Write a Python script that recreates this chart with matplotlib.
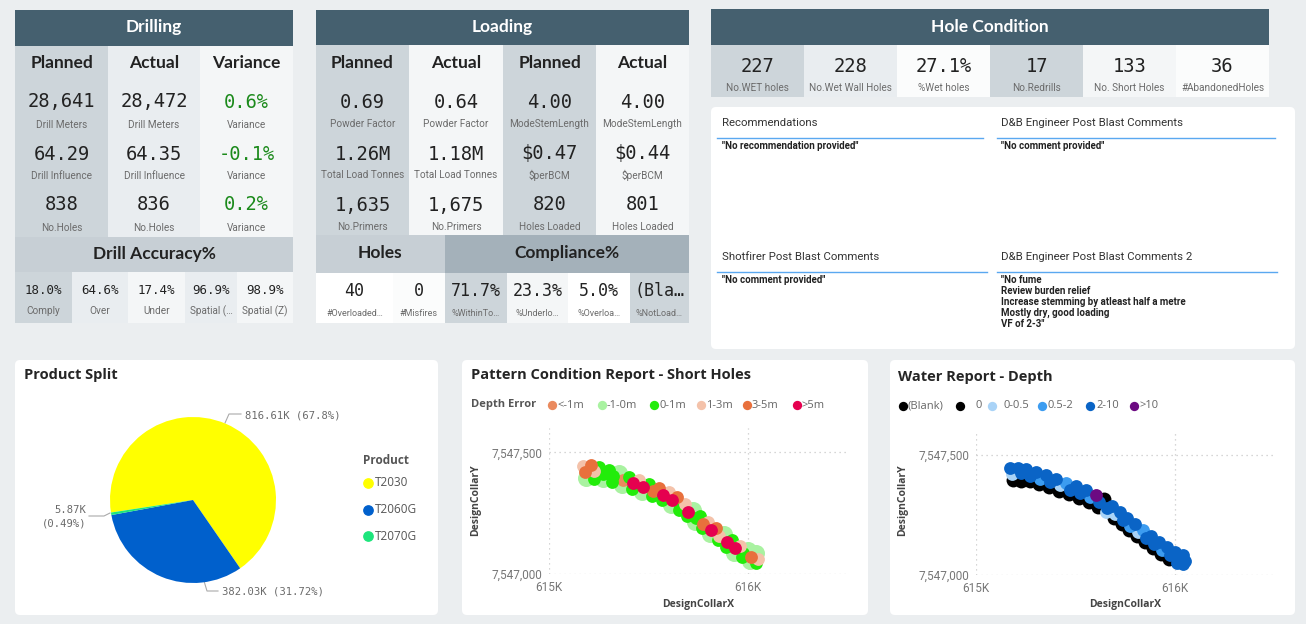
import matplotlib
matplotlib.use('Agg')
import matplotlib.pyplot as plt
from matplotlib.patches import Rectangle, FancyBboxPatch
from matplotlib.lines import Line2D

# ---------------- data ----------------
drill_headers = ['Planned', 'Actual', 'Variance']
drill_planned = ['28,641', '64.29', '838']
drill_actual = ['28,472', '64.35', '836']
drill_variance = ['0.6%', '-0.1%', '0.2%']
drill_labels = ['Drill Meters', 'Drill Influence', 'No.Holes']
drill_var_label = 'Variance'
accuracy_values = ['18.0%', '64.6%', '17.4%', '96.9%', '98.9%']
accuracy_labels = ['Comply', 'Over', 'Under', 'Spatial (…', 'Spatial (Z)']

loading_headers = ['Planned', 'Actual', 'Planned', 'Actual']
loading_values = [['0.69', '1.26M', '1,635'],
                  ['0.64', '1.18M', '1,675'],
                  ['4.00', '$0.47', '820'],
                  ['4.00', '$0.44', '801']]
loading_labels = [['Powder Factor', 'Total Load Tonnes', 'No.Primers'],
                  ['Powder Factor', 'Total Load Tonnes', 'No.Primers'],
                  ['ModeStemLength', '$perBCM', 'Holes Loaded'],
                  ['ModeStemLength', '$perBCM', 'Holes Loaded']]
holes_values = ['40', '0']
holes_labels = ['#Overloaded…', '#Misfires']
compliance_values = ['71.7%', '23.3%', '5.0%', '(Bla…']
compliance_labels = ['%WithinTo…', '%Underlo…', '%Overloa…', '%NotLoad…']

hole_cond_values = ['227', '228', '27.1%', '17', '133', '36']
hole_cond_labels = ['No.WET holes', 'No.Wet Wall Holes', '%Wet holes', 'No.Redrills',
                    'No. Short Holes', '#AbandonedHoles']

comment_titles = ['Recommendations', 'D&B Engineer Post Blast Comments',
                  'Shotfirer Post Blast Comments', 'D&B Engineer Post Blast Comments 2']
comment_texts = ['"No recommendation provided"', '"No comment provided"',
                 '"No comment provided"',
                 '"No fume\nReview burden relief\nIncrease stemming by atleast half a metre\nMostly dry, good loading\nVF of 2-3"']

products = ['T2030', 'T2060G', 'T2070G']
product_values = [816.61, 382.03, 5.87]
product_value_labels = ['816.61K', '382.03K', '5.87K']
product_pct_labels = ['67.8%', '31.72%', '0.49%']
product_colors = ['#ffff00', '#0060cc', '#1de57c']

hole_x = [615170, 615210, 615250, 615300, 615350, 615400, 615450, 615500, 615550, 615600, 615640,
          615680, 615720, 615760, 615800, 615840, 615880, 615920, 615960, 616000, 616040,
          615180, 615225, 615270, 615320, 615370, 615420, 615470, 615520, 615570, 615615, 615655,
          615695, 615735, 615775, 615815, 615855, 615895, 615935, 615975, 616015, 616050,
          615185, 615225, 615270, 615315, 615365, 615415, 615465, 615515, 615565, 615610, 615650,
          615690, 615730, 615770, 615810, 615850, 615890, 615930, 615970, 616010, 616040]
hole_y = [7547445, 7547447, 7547440, 7547428, 7547415, 7547400, 7547385, 7547370, 7547353, 7547335, 7547315,
          7547288, 7547263, 7547238, 7547213, 7547188, 7547163, 7547138, 7547115, 7547097, 7547085,
          7547420, 7547423, 7547413, 7547401, 7547388, 7547373, 7547356, 7547341, 7547323, 7547303, 7547281,
          7547256, 7547231, 7547206, 7547181, 7547156, 7547130, 7547106, 7547085, 7547070, 7547060,
          7547395, 7547390, 7547392, 7547380, 7547366, 7547351, 7547336, 7547320, 7547303, 7547285, 7547263,
          7547238, 7547213, 7547188, 7547163, 7547138, 7547113, 7547088, 7547068, 7547052, 7547047]

depth_error = ['1-3m', '3-5m', '0-1m', '0-1m', '-1-0m', '0-1m', '1-3m', '0-1m', '3-5m', '1-3m', '3-5m',
               '1-3m', '-1-0m', '0-1m', '1-3m', '3-5m', '-1-0m', '0-1m', '1-3m', '-1-0m', '-1-0m',
               '3-5m', '1-3m', '0-1m', '0-1m', '<-1m', '>5m', '>5m', '3-5m', '>5m', '>5m', '0-1m',
               '>5m', '0-1m', '3-5m', '>5m', '1-3m', '>5m', '>5m', '0-1m', '3-5m', '1-3m',
               '-1-0m', '0-1m', '-1-0m', '0-1m', '-1-0m', '0-1m', '-1-0m', '0-1m', '0-1m', '-1-0m', '0-1m',
               '0-1m', '-1-0m', '0-1m', '-1-0m', '0-1m', '0-1m', '-1-0m', '0-1m', '-1-0m', '0-1m']
depth_classes = ['<-1m', '-1-0m', '0-1m', '1-3m', '3-5m', '>5m']
depth_colors = ['#ea8a5e', '#a9f2a1', '#22ec0a', '#f4c2aa', '#e8703c', '#e5004f']

water_depth = ['2-10', '2-10', '2-10', '2-10', '2-10', '2-10', '0.5-2', '2-10', '2-10', '>10', '0',
               '2-10', '2-10', '2-10', '2-10', '0.5-2', '2-10', '2-10', '2-10', '2-10', '2-10',
               '0-0.5', '2-10', '2-10', '0.5-2', '2-10', '0-0.5', '2-10', '2-10', '0.5-2', '2-10', '2-10',
               '0-0.5', '2-10', '0.5-2', '0-0.5', '2-10', '2-10', '0.5-2', '2-10', '2-10', '2-10',
               '0', '0', '0', '(Blank)', '0', '0', '0', '0', '0', '0', '0-0.5',
               '0', '0', '0', '0', '0', '0', '0', '0', '2-10', '2-10']
water_classes = ['(Blank)', '0', '0-0.5', '0.5-2', '2-10', '>10']
water_colors = ['#000000', '#000000', '#a9d3f7', '#3c9cf0', '#0a64c6', '#6c0a82']

x_ticks = [615000, 616000]
x_tick_labels = ['615K', '616K']
y_ticks = [7547000, 7547500]
y_tick_labels = ['7,547,000', '7,547,500']

# ---------------- styles ----------------
W, H = 1306, 624
BG = '#ebeef0'
HEAD = '#45606f'
C_DARK = '#cdd5da'
C_MID = '#e9edf0'
C_LIGHT = '#f4f6f7'
C_WHITE = '#fbfcfc'
SUB = '#c7cfd5'
SUB2 = '#a4b1ba'
MONO = ['DejaVu Sans Mono']
HFONT = ['Lato', 'DejaVu Sans']
LFONT = ['Liberation Sans Narrow', 'Roboto', 'DejaVu Sans']
TFONT = ['Open Sans', 'DejaVu Sans']

fig = plt.figure(figsize=(W / 100, H / 100), dpi=100)
fig.patch.set_facecolor(BG)
bg = fig.add_axes([0, 0, 1, 1])
bg.set_xlim(0, W)
bg.set_ylim(H, 0)
bg.axis('off')


def px_axes(x0, y0, x1, y1):
    return fig.add_axes([x0 / W, 1 - y1 / H, (x1 - x0) / W, (y1 - y0) / H])


def rect(x0, y0, x1, y1, color):
    bg.add_patch(Rectangle((x0, y0), x1 - x0, y1 - y0, fc=color, ec='none', zorder=1))


def panel(x0, y0, x1, y1):
    bg.add_patch(FancyBboxPatch((x0, y0), x1 - x0, y1 - y0,
                                boxstyle='round,pad=0,rounding_size=5',
                                fc='white', ec='none', zorder=1))


def txt(x, y, s, size=8, color='#222222', weight='normal', family=None, ha='center', va='center', **kw):
    bg.text(x, y, s, fontsize=size, color=color, fontweight=weight,
            family=family if family else LFONT, ha=ha, va=va, parse_math=False, zorder=3, **kw)


VAL_SIZE = 13.5
LAB_SIZE = 7.2
LAB_COL = '#6b6b6b'
HDR_SIZE = 12.5
TITLE_SIZE = 12.5

# ---------------- Drilling ----------------
rect(15, 10, 293, 46, HEAD)
txt(154, 27, 'Drilling', size=TITLE_SIZE, color='white', weight='bold', family=HFONT)
dcols = [15, 108, 200, 293]
dcolors = [C_DARK, C_MID, C_LIGHT]
val_y = [102, 154, 205]
lab_y = [125, 176, 228]
for i in range(3):
    rect(dcols[i], 46, dcols[i + 1], 237, dcolors[i])
    cx = (dcols[i] + dcols[i + 1]) / 2
    txt(cx, 63, drill_headers[i], size=HDR_SIZE, weight='bold', family=HFONT)
for r in range(3):
    txt((dcols[0] + dcols[1]) / 2, val_y[r], drill_planned[r], size=VAL_SIZE, family=MONO)
    txt((dcols[0] + dcols[1]) / 2, lab_y[r], drill_labels[r], size=LAB_SIZE, color=LAB_COL)
    txt((dcols[1] + dcols[2]) / 2, val_y[r], drill_actual[r], size=VAL_SIZE, family=MONO)
    txt((dcols[1] + dcols[2]) / 2, lab_y[r], drill_labels[r], size=LAB_SIZE, color=LAB_COL)
    txt((dcols[2] + dcols[3]) / 2, val_y[r], drill_variance[r], size=VAL_SIZE, family=MONO, color='#1b8a1b')
    txt((dcols[2] + dcols[3]) / 2, lab_y[r], drill_var_label, size=LAB_SIZE, color=LAB_COL)
rect(15, 237, 293, 272, SUB)
txt(154, 254, 'Drill Accuracy%', size=HDR_SIZE, weight='bold', family=HFONT)
acols = [15, 72, 128, 185, 237, 293]
acolors = [C_DARK, C_MID, C_LIGHT, C_MID, C_LIGHT]
for i in range(5):
    rect(acols[i], 272, acols[i + 1], 323, acolors[i])
    cx = (acols[i] + acols[i + 1]) / 2
    txt(cx, 290, accuracy_values[i], size=9, family=MONO)
    txt(cx, 311, accuracy_labels[i], size=LAB_SIZE, color=LAB_COL)

# ---------------- Loading ----------------
rect(316, 10, 689, 45, HEAD)
txt(502, 27, 'Loading', size=TITLE_SIZE, color='white', weight='bold', family=HFONT)
lcols = [316, 409, 503, 596, 689]
lcolors = [C_DARK, C_LIGHT, C_DARK, C_LIGHT]
for i in range(4):
    rect(lcols[i], 45, lcols[i + 1], 235, lcolors[i])
    cx = (lcols[i] + lcols[i + 1]) / 2
    txt(cx, 63, loading_headers[i], size=HDR_SIZE, weight='bold', family=HFONT)
    for r in range(3):
        txt(cx, val_y[r], loading_values[i][r], size=VAL_SIZE, family=MONO)
        txt(cx, lab_y[r] - 1, loading_labels[i][r], size=LAB_SIZE, color=LAB_COL)
rect(316, 235, 445, 273, SUB)
rect(445, 235, 689, 273, SUB2)
txt(380, 253, 'Holes', size=HDR_SIZE, weight='bold', family=HFONT)
txt(567, 253, 'Compliance%', size=HDR_SIZE, weight='bold', family=HFONT)
hcols = [316, 393, 445]
hcolors = ['white', C_WHITE]
for i in range(2):
    rect(hcols[i], 273, hcols[i + 1], 323, hcolors[i])
    cx = (hcols[i] + hcols[i + 1]) / 2
    txt(cx, 291, holes_values[i], size=12, family=MONO)
    txt(cx, 313, holes_labels[i], size=6.5, color=LAB_COL)
ccols = [445, 507, 568, 630, 689]
ccolors = [C_DARK, C_LIGHT, 'white', C_DARK]
for i in range(4):
    rect(ccols[i], 273, ccols[i + 1], 323, ccolors[i])
    cx = (ccols[i] + ccols[i + 1]) / 2
    txt(cx, 291, compliance_values[i], size=12, family=MONO)
    txt(cx, 313, compliance_labels[i], size=6.5, color=LAB_COL)

# ---------------- Hole Condition ----------------
rect(711, 9, 1269, 45, HEAD)
txt(990, 27, 'Hole Condition', size=TITLE_SIZE, color='white', weight='bold', family=HFONT)
hc_cols = [711, 804, 897, 990, 1083, 1176, 1269]
hc_colors = [C_DARK, C_MID, C_WHITE, C_DARK, C_LIGHT, C_WHITE]
for i in range(6):
    rect(hc_cols[i], 45, hc_cols[i + 1], 97, hc_colors[i])
    cx = (hc_cols[i] + hc_cols[i + 1]) / 2
    txt(cx, 66, hole_cond_values[i], size=VAL_SIZE, family=MONO)
    txt(cx, 88, hole_cond_labels[i], size=LAB_SIZE, color=LAB_COL)

# ---------------- Comments ----------------
panel(711, 107, 1295, 349)
c_pos = [(722, 717, 983, 123), (1001, 997, 1275, 123), (722, 717, 987, 257), (1001, 997, 1277, 257)]
for (tx, lx0, lx1, ty), title, body in zip(c_pos, comment_titles, comment_texts):
    txt(tx, ty, title, size=8.2, color='#333333', ha='left')
    bg.add_line(Line2D([lx0, lx1], [ty + 15, ty + 15], color='#5aa8f0', lw=1.0, zorder=3))
    txt(tx, ty + 18, body, size=7, color='#222222', ha='left', va='top', weight='bold',
        linespacing=1.12)

# ---------------- Product Split ----------------
panel(15, 360, 438, 615)
txt(24, 375, 'Product Split', size=10.5, weight='bold', family=TFONT, ha='left', color='#252525')
pie_ax = px_axes(110, 417, 276, 583)
pie_ax.pie(product_values, colors=product_colors, startangle=188.7,
           counterclock=False, radius=1.0, wedgeprops=dict(linewidth=0))
pie_ax.set_xlim(-1, 1)
pie_ax.set_ylim(-1, 1)
pie_ax.set_aspect('equal')
pie_ax.axis('off')
lab_col = '#6a6a6a'
bg.add_line(Line2D([225, 229, 241], [423, 414, 414], color='#aaaaaa', lw=0.8, zorder=3))
txt(245, 415, f'{product_value_labels[0]} ({product_pct_labels[0]})', size=7.6, family=MONO,
    color=lab_col, ha='left')
bg.add_line(Line2D([204, 207, 218], [581, 591, 591], color='#aaaaaa', lw=0.8, zorder=3))
txt(222, 592, f'{product_value_labels[1]} ({product_pct_labels[1]})', size=7.6, family=MONO,
    color=lab_col, ha='left')
bg.add_line(Line2D([110, 104, 89], [513, 516, 516], color='#aaaaaa', lw=0.8, zorder=3))
txt(86, 510, product_value_labels[2], size=7.6, family=MONO, color=lab_col, ha='right')
txt(86, 523, f'({product_pct_labels[2]})', size=7.6, family=MONO, color=lab_col, ha='right')
txt(363, 461, 'Product', size=8.5, weight='bold', family=TFONT, ha='left', color='#555555')
for i, (p, c) in enumerate(zip(products, product_colors)):
    yy = 483 + 26.5 * i
    bg.scatter([368], [yy], s=45, color=c, zorder=3)
    txt(375, yy, p, size=8.5, family=TFONT, ha='left', color='#555555')


# ---------------- scatter panels ----------------
def scatter_panel(ax, cats, classes, colors, sizes):
    for cl, col in zip(classes, colors):
        xs = [x for x, c in zip(hole_x, cats) if c == cl]
        ys = [y for y, c in zip(hole_y, cats) if c == cl]
        ax.scatter(xs, ys, s=sizes.get(cl, 85), color=col, linewidths=0, zorder=3)
    ax.set_xlim(615000, 616500)
    ax.set_ylim(7547000, 7547600)
    ax.set_facecolor('none')
    for s in ax.spines.values():
        s.set_visible(False)
    ax.set_xticks(x_ticks)
    ax.set_xticklabels(x_tick_labels)
    ax.set_yticks(y_ticks)
    ax.set_yticklabels(y_tick_labels)
    ax.tick_params(length=0, labelsize=8.5, labelcolor='#777777', pad=5)
    for lab in ax.get_xticklabels() + ax.get_yticklabels():
        lab.set_family(LFONT)
    ax.grid(True, color='#c9c9c9', linestyle=(0, (1, 3)), linewidth=0.9)
    ax.set_axisbelow(True)


# Pattern
panel(462, 360, 868, 615)
txt(471, 375, 'Pattern Condition Report - Short Holes', size=10.5, weight='bold', family=TFONT,
    ha='left', color='#252525')
txt(471, 405, 'Depth Error', size=8, weight='bold', family=TFONT, ha='left', color='#555555')
leg_x = [552, 602, 654, 701, 747, 797]
for lx, cl, col in zip(leg_x, depth_classes, depth_colors):
    bg.scatter([lx], [405], s=45, color=col, zorder=3, linewidths=0)
    txt(lx + 5, 405, cl, size=8, family=TFONT, ha='left', color='#666666')
pat_ax = px_axes(549, 428, 848, 574)
scatter_panel(pat_ax, depth_error, ['-1-0m', '<-1m', '0-1m', '1-3m', '3-5m', '>5m'],
              ['#a9f2a1', '#ea8a5e', '#22ec0a', '#f4c2aa', '#e8703c', '#e5004f'],
              {'-1-0m': 150})
txt(698, 605, 'DesignCollarX', size=7.5, weight='bold', family=TFONT, color='#444444')
txt(476, 500, 'DesignCollarY', size=7.5, weight='bold', family=TFONT, color='#444444', rotation=90)

# Water
panel(890, 360, 1295, 615)
txt(898, 377, 'Water Report - Depth', size=10.5, weight='bold', family=TFONT, ha='left', color='#252525')
wleg_x = [903, 960, 992, 1042, 1090, 1134]
wtext_dx = [5, 16, 12, 6, 6, 5]
for lx, dx, cl, col in zip(wleg_x, wtext_dx, water_classes, water_colors):
    bg.scatter([lx], [406], s=45, color=col, zorder=3, linewidths=0)
    txt(lx + dx, 406, cl, size=8, family=TFONT, ha='left', color='#666666')
wat_ax = px_axes(976, 431, 1275, 575)
scatter_panel(wat_ax, water_depth, water_classes, water_colors, {'(Blank)': 100, '0': 100})
txt(1125, 605, 'DesignCollarX', size=7.5, weight='bold', family=TFONT, color='#444444')
txt(903, 500, 'DesignCollarY', size=7.5, weight='bold', family=TFONT, color='#444444', rotation=90)

fig.savefig('out.png', dpi=100, facecolor=BG)
